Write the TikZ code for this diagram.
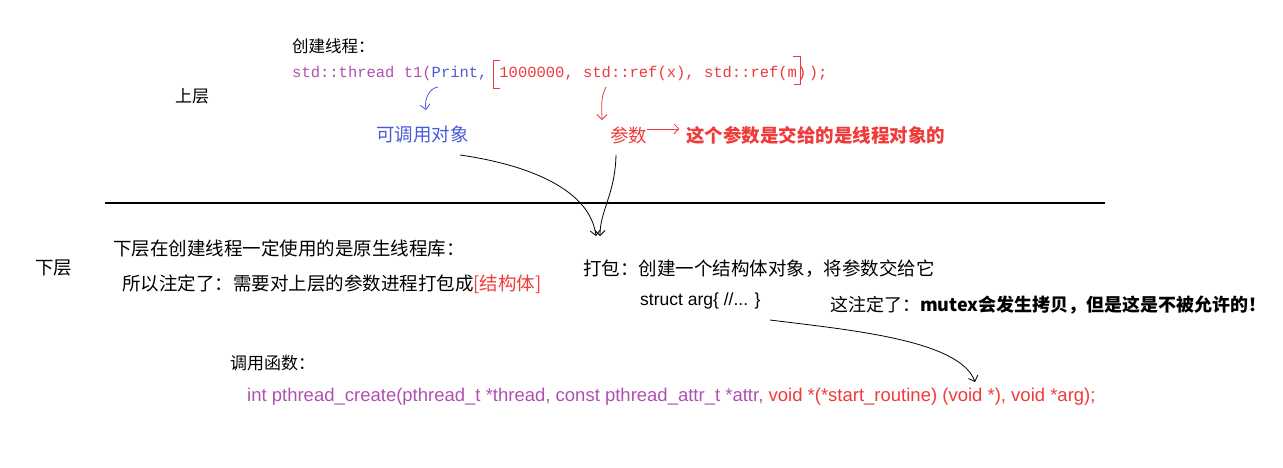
\documentclass[tikz,border=0pt]{standalone}
\usepackage{fontspec}
\setmainfont{Noto Sans CJK SC}
\newfontfamily\cjk{Noto Sans CJK SC}
\newfontfamily\codef{Liberation Mono}
\newfontfamily\sansf{Liberation Sans}
\usetikzlibrary{arrows.meta}
\definecolor{cpurple}{HTML}{B050B0}
\definecolor{cblue}{HTML}{4A5AD8}
\definecolor{cred}{HTML}{F03A3A}
\begin{document}
\begin{tikzpicture}[x=1pt,y=-1pt,
  txt/.style={anchor=base west,inner sep=0pt,font=\cjk\fontsize{18.5}{18}\selectfont},
  code/.style={anchor=base west,inner sep=0pt,font=\codef\fontsize{15.5}{15}\selectfont},
  sans/.style={anchor=base west,inner sep=0pt,font=\sansf\fontsize{18.5}{18}\selectfont},
  hand/.style={line width=0.8pt,-{Straight Barb[length=5pt]}}]
\useasboundingbox (0,0) rectangle (1283,467);
\node[txt,font=\cjk\fontsize{16.5}{16}\selectfont] (t1) at (292,52) {创建线程：};
\node[code] (c1) at (292,77) {\textcolor{cpurple}{std::thread t1(}\textcolor{cblue}{Print,} \textcolor{cred}{\,1000000, std::ref(x), std::ref(m)\,);}};
\draw[cred,line width=0.8pt] (500,60) -- (493,60) -- (493,88) -- (500,88);
\draw[cred,line width=0.8pt] (793,56) -- (800,56) -- (800,84) -- (794,84);
\node[txt,font=\cjk\fontsize{17}{17}\selectfont] (up) at (175,102) {上层};
\node[txt,text=cblue] (callable) at (376,141) {可调用对象};
\node[txt,text=cred] (param) at (610,142) {参数};
\node[txt,text=cred,font=\cjk\bfseries\fontsize{18.5}{18}\selectfont] (pnote) at (686,142) {这个参数是交给的是线程对象的};
\coordinate (bA) at (438,87); \coordinate (bB) at (426,110);
\draw[cblue,hand] (bA) .. controls (430,88) and (424,98) .. (bB);
\coordinate (rA) at (606,87); \coordinate (rB) at (602,120);
\draw[cred,hand] (rA) .. controls (600,98) and (602,110) .. (rB);
\draw[cred,hand] (param.east) ++(0,-6) -- ++(32,0) coordinate (pe);
\draw[line width=2pt] (105,203) -- (1105,203);
\node[txt] (down) at (35,274) {下层};
\node[txt] (l1) at (113,255) {下层在创建线程一定使用的是原生线程库：};
\node[txt] (l2) at (122,290) {所以注定了：需要对上层的参数进程打包成\textcolor{cred}{[结构体]}};
\node[txt] (pack) at (583,275) {打包：创建一个结构体对象，将参数交给它};
\node[sans,font=\sansf\fontsize{17.5}{17}\selectfont] (st) at (640,305) {struct arg\{ //... \}};
\node[txt,font=\cjk\fontsize{18}{18}\selectfont] (n2) at (830,311) {这注定了：\textbf{mutex会发生拷贝，但是这是不被允许的！}};
\node[txt,font=\cjk\fontsize{17}{17}\selectfont] (call) at (230,369) {调用函数：};
\node[sans] (pc) at (247,401) {\textcolor{cpurple}{int pthread\_create(pthread\_t *thread, const pthread\_attr\_t *attr, }\textcolor{cred}{void *(*start\_routine) (void *), void *arg);}};
\coordinate (k1) at (460,155); \coordinate (k2) at (596,236);
\draw[hand] (k1) .. controls (530,165) and (590,190) .. (k2);
\coordinate (k3) at (616,155); \coordinate (k4) at (600,236);
\draw[hand] (k3) .. controls (615,195) and (600,210) .. (k4);
\coordinate (k5) at (770,320); \coordinate (k6) at (975,382);
\draw[hand] (k5) .. controls (850,330) and (960,340) .. (k6);
\end{tikzpicture}
\end{document}
